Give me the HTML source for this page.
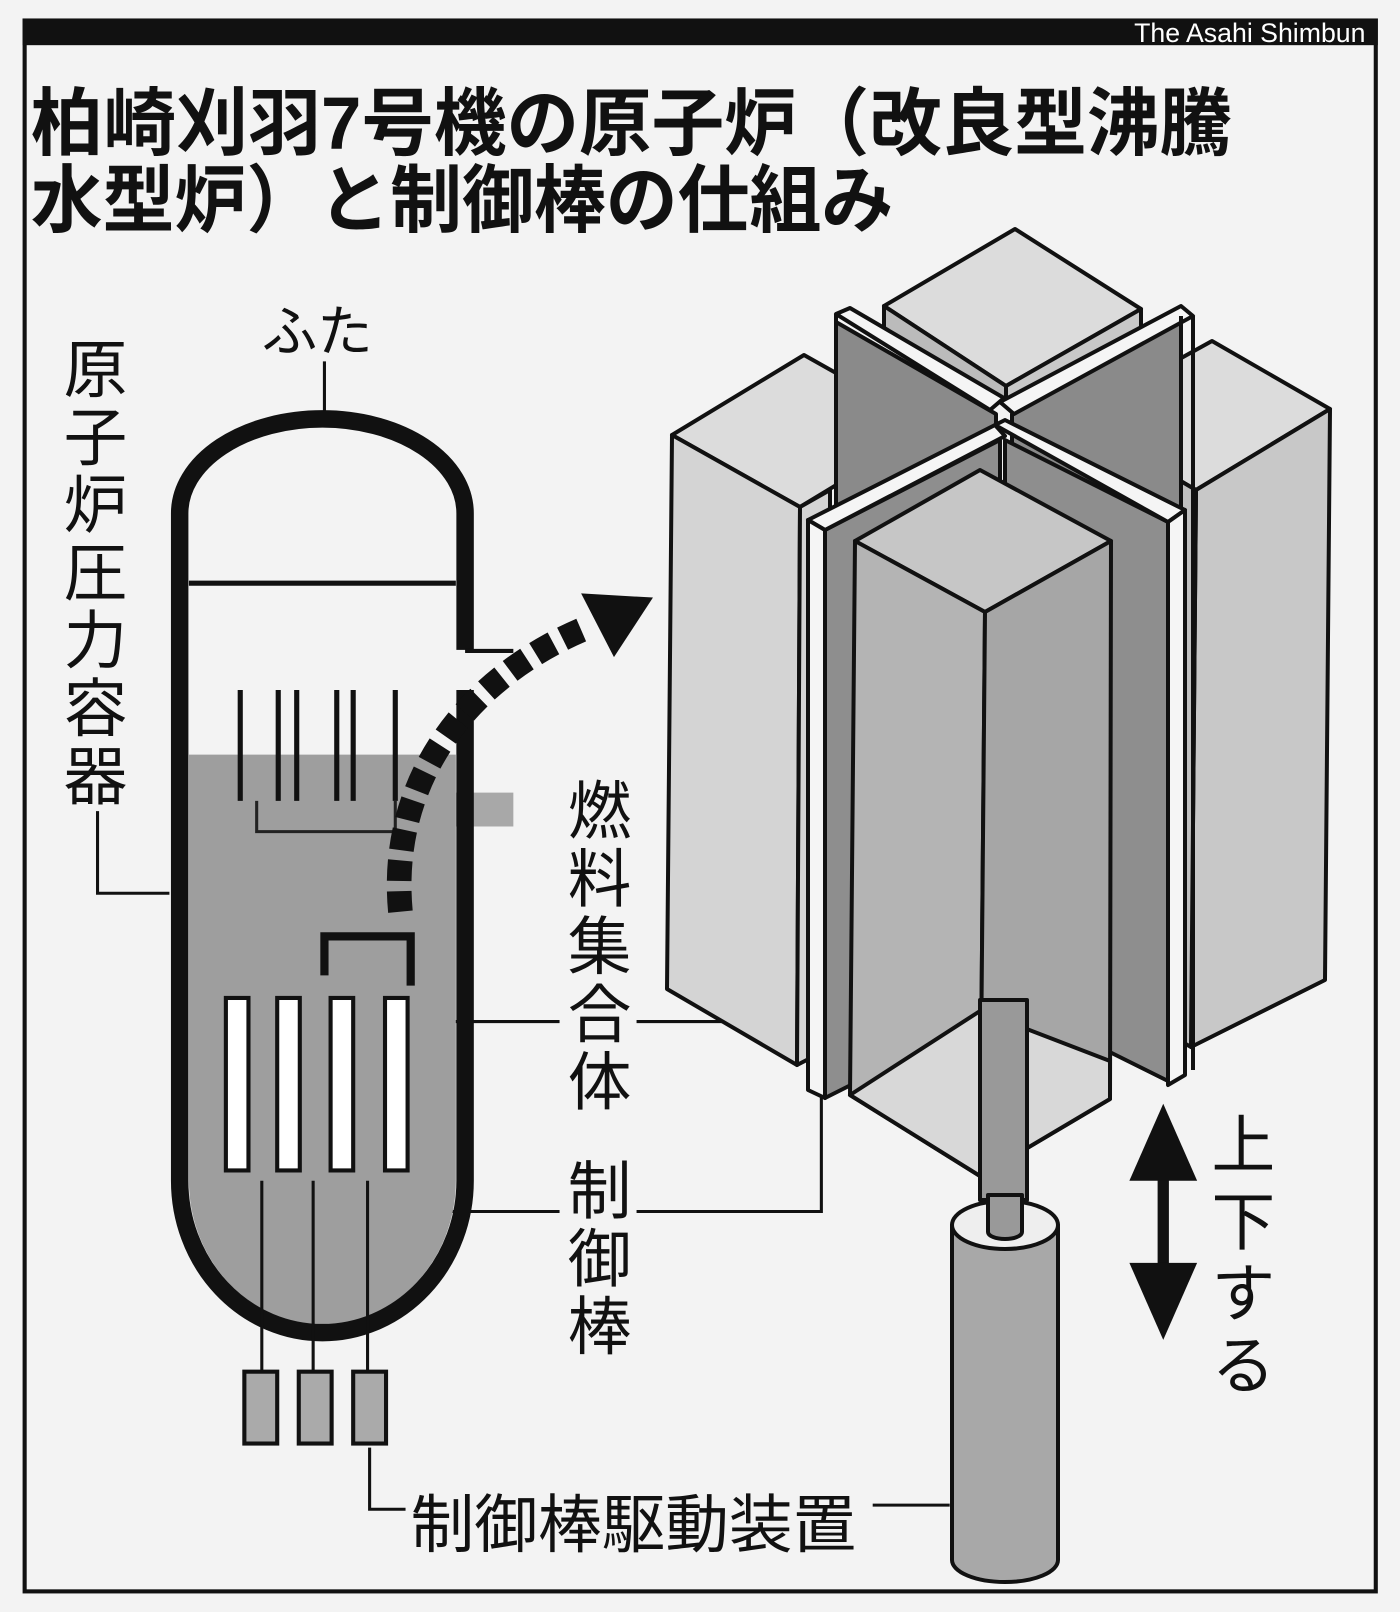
<!DOCTYPE html>
<html><head><meta charset="utf-8"><style>
html,body{margin:0;padding:0;background:#f3f3f3;}
svg{display:block}
text{font-family:"Liberation Sans","Noto Sans CJK JP",sans-serif;}
</style></head><body>
<svg width="1400" height="1612" viewBox="0 0 1400 1612" xmlns="http://www.w3.org/2000/svg">
<rect x="0" y="0" width="1400" height="1612" fill="#f3f3f3"/>
<g transform="scale(1.0267)">
<!-- frame -->
<rect x="24" y="20" width="1316" height="1530" fill="none" stroke="#111" stroke-width="4"/>
<rect x="22" y="18" width="1320" height="26" fill="#111"/>
<text x="1330" y="41" font-family="Liberation Serif" font-size="26" fill="#fff" text-anchor="end">The Asahi Shimbun</text>
<!-- title -->
<text x="30" y="145" font-size="72" font-weight="bold" fill="#111" textLength="1170" lengthAdjust="spacingAndGlyphs">柏崎刈羽7号機の原子炉（改良型沸騰</text>
<text x="30" y="220" font-size="72" font-weight="bold" fill="#111" textLength="840" lengthAdjust="spacingAndGlyphs">水型炉）と制御棒の仕組み</text>

<!-- labels -->
<g font-size="62" fill="#111">
<text x="255" y="342" font-size="54">ふた</text>
<text x="62" y="382">原</text><text x="62" y="448">子</text><text x="62" y="514">炉</text><text x="62" y="580">圧</text><text x="62" y="646">力</text><text x="62" y="712">容</text><text x="62" y="778">器</text>
<text x="553" y="812">燃</text><text x="553" y="878">料</text><text x="553" y="944">集</text><text x="553" y="1010">合</text><text x="553" y="1076">体</text>
<text x="553" y="1182">制</text><text x="553" y="1248">御</text><text x="553" y="1314">棒</text>
<text x="1180" y="1137">上</text><text x="1180" y="1212">下</text><text x="1180" y="1282">す</text><text x="1180" y="1352">る</text>
<text x="400" y="1507">制御棒駆動装置</text>
</g>
<!-- leader lines -->
<g stroke="#111" stroke-width="3" fill="none">
<line x1="316" y1="352" x2="316" y2="415"/>
<polyline points="95,790 95,870 165,870"/>
<line x1="395" y1="995" x2="545" y2="995"/>
<line x1="620" y1="995" x2="735" y2="995"/>
<polyline points="360,1180 545,1180"/>
<polyline points="620,1180 800,1180 800,1060"/>
<polyline points="360,1410 360,1470 395,1470"/>
<line x1="850" y1="1466" x2="925" y2="1466"/>
</g>

<!-- vessel -->
<path d="M184,735 L444,735 L444,1150 A130,140 0 0 1 184,1150 Z" fill="#9e9e9e"/>
<rect x="444" y="772" width="56" height="33" fill="#a8a8a8"/>
<path d="M175,1150 L175,500 A139,92 0 0 1 453,500 L453,633 M453,672 L453,1150 A139,148 0 0 1 175,1150" fill="none" stroke="#111" stroke-width="17"/>
<line x1="184" y1="568" x2="444" y2="568" stroke="#111" stroke-width="5"/>
<line x1="453" y1="634" x2="500" y2="634" stroke="#111" stroke-width="4"/>
<g stroke="#111" stroke-width="5">
<line x1="234" y1="672" x2="234" y2="780"/><line x1="271" y1="672" x2="271" y2="780"/>
<line x1="289" y1="672" x2="289" y2="780"/><line x1="328" y1="672" x2="328" y2="780"/>
<line x1="344" y1="672" x2="344" y2="780"/><line x1="385" y1="672" x2="385" y2="780"/>
</g>
<path d="M250,780 L250,810 L385,810 L385,780" fill="none" stroke="#222" stroke-width="3"/>
<path d="M316,950 L316,912 L400,912 L400,960" fill="none" stroke="#111" stroke-width="8"/>
<g fill="#fff" stroke="#111" stroke-width="4">
<rect x="220" y="972" width="22" height="168"/><rect x="270" y="972" width="22" height="168"/>
<rect x="322" y="972" width="22" height="168"/><rect x="375" y="972" width="22" height="168"/>
</g>
<g stroke="#111" stroke-width="3">
<line x1="255" y1="1150" x2="255" y2="1335"/><line x1="305" y1="1150" x2="305" y2="1335"/><line x1="358" y1="1150" x2="358" y2="1335"/>
</g>
<g fill="#aaa" stroke="#111" stroke-width="4">
<rect x="238" y="1336" width="32" height="70"/><rect x="291" y="1336" width="32" height="70"/><rect x="344" y="1336" width="32" height="70"/>
</g>
<!-- dotted arrow -->
<path d="M390,888 C378,760 455,660 570,612" fill="none" stroke="#111" stroke-width="24" stroke-dasharray="20,10"/>
<polygon points="566,578 636,582 598,640" fill="#111"/>
<!-- double arrow -->
<line x1="1133" y1="1110" x2="1133" y2="1265" stroke="#111" stroke-width="11"/>
<polygon points="1133,1075 1100,1150 1166,1150" fill="#111"/>
<polygon points="1133,1305 1100,1230 1166,1230" fill="#111"/>
</g>

<!-- right 3D (actual coords) -->
<g stroke="#111" stroke-width="4" stroke-linejoin="round">
<!-- back top box -->
<polygon points="884,306 1015,229 1141,309 1006,386" fill="#dcdcdc"/>
<polygon points="884,306 1006,386 1006,406 884,328" fill="#bbb"/>
<polygon points="1006,386 1141,309 1141,328 1006,406" fill="#c8c8c8"/>
<!-- left box -->
<polygon points="672,435 804,355 932,427 800,507" fill="#dcdcdc"/>
<polygon points="672,435 800,507 797,1065 667,989" fill="#d4d4d4"/>
<polygon points="800,507 830,490 830,1048 797,1065" fill="#d4d4d4"/>
<!-- right box -->
<polygon points="1073,418 1212,341 1330,409 1196,490" fill="#dcdcdc"/>
<polygon points="1196,490 1330,409 1325,980 1191,1047" fill="#c8c8c8"/>
<polygon points="1073,418 1196,490 1191,1047 1073,980" fill="#c0c0c0"/>
<!-- back blades -->
<polygon points="836,322 996,414 996,560 836,520" fill="#8a8a8a"/>
<polygon points="1181,316 1012,414 1012,560 1181,520" fill="#8a8a8a"/>
<polygon points="836,314 850,308 1004,398 990,410" fill="#f5f5f5"/>
<polygon points="1181,306 1193,316 1014,414 1000,402" fill="#f5f5f5"/>
<line x1="836" y1="314" x2="836" y2="510"/>
<line x1="1193" y1="316" x2="1193" y2="1070"/>
<line x1="1181" y1="316" x2="1181" y2="1075"/>
<!-- front-left blade -->
<polygon points="825,530 1000,440 1000,1010 825,1098" fill="#8e8e8e"/>
<polygon points="808,520 995,425 1005,436 825,530" fill="#f5f5f5"/>
<polygon points="808,520 825,530 825,1098 808,1090" fill="#f5f5f5"/>
<!-- front-right blade -->
<polygon points="1005,440 1168,522 1168,1081 1005,1000" fill="#8e8e8e"/>
<polygon points="995,425 1005,420 1185,510 1168,522" fill="#f5f5f5"/>
<polygon points="1168,522 1185,510 1185,1075 1168,1085" fill="#f5f5f5"/>
<!-- front box -->
<polygon points="855,541 980,470 1111,541 985,612" fill="#c6c6c6"/>
<polygon points="855,541 985,612 980,1176 850,1095" fill="#b4b4b4"/>
<polygon points="985,612 1111,541 1110,1099 980,1176" fill="#a6a6a6"/>
<polygon points="850,1095 980,1011 1110,1061 1110,1099 980,1176" fill="#d8d8d8"/>
<!-- shaft -->
<rect x="980" y="1000" width="47" height="200" fill="#999"/>
<!-- cylinder -->
<path d="M952,1225 L952,1560 A53,22 0 0 0 1058,1560 L1058,1225 Z" fill="#a8a8a8"/>
<ellipse cx="1005" cy="1225" rx="53" ry="24" fill="#eee"/>
<path d="M988,1195 L988,1232 A17,7 0 0 0 1022,1232 L1022,1195 Z" fill="#999"/>
</g>
</svg>
</body></html>
